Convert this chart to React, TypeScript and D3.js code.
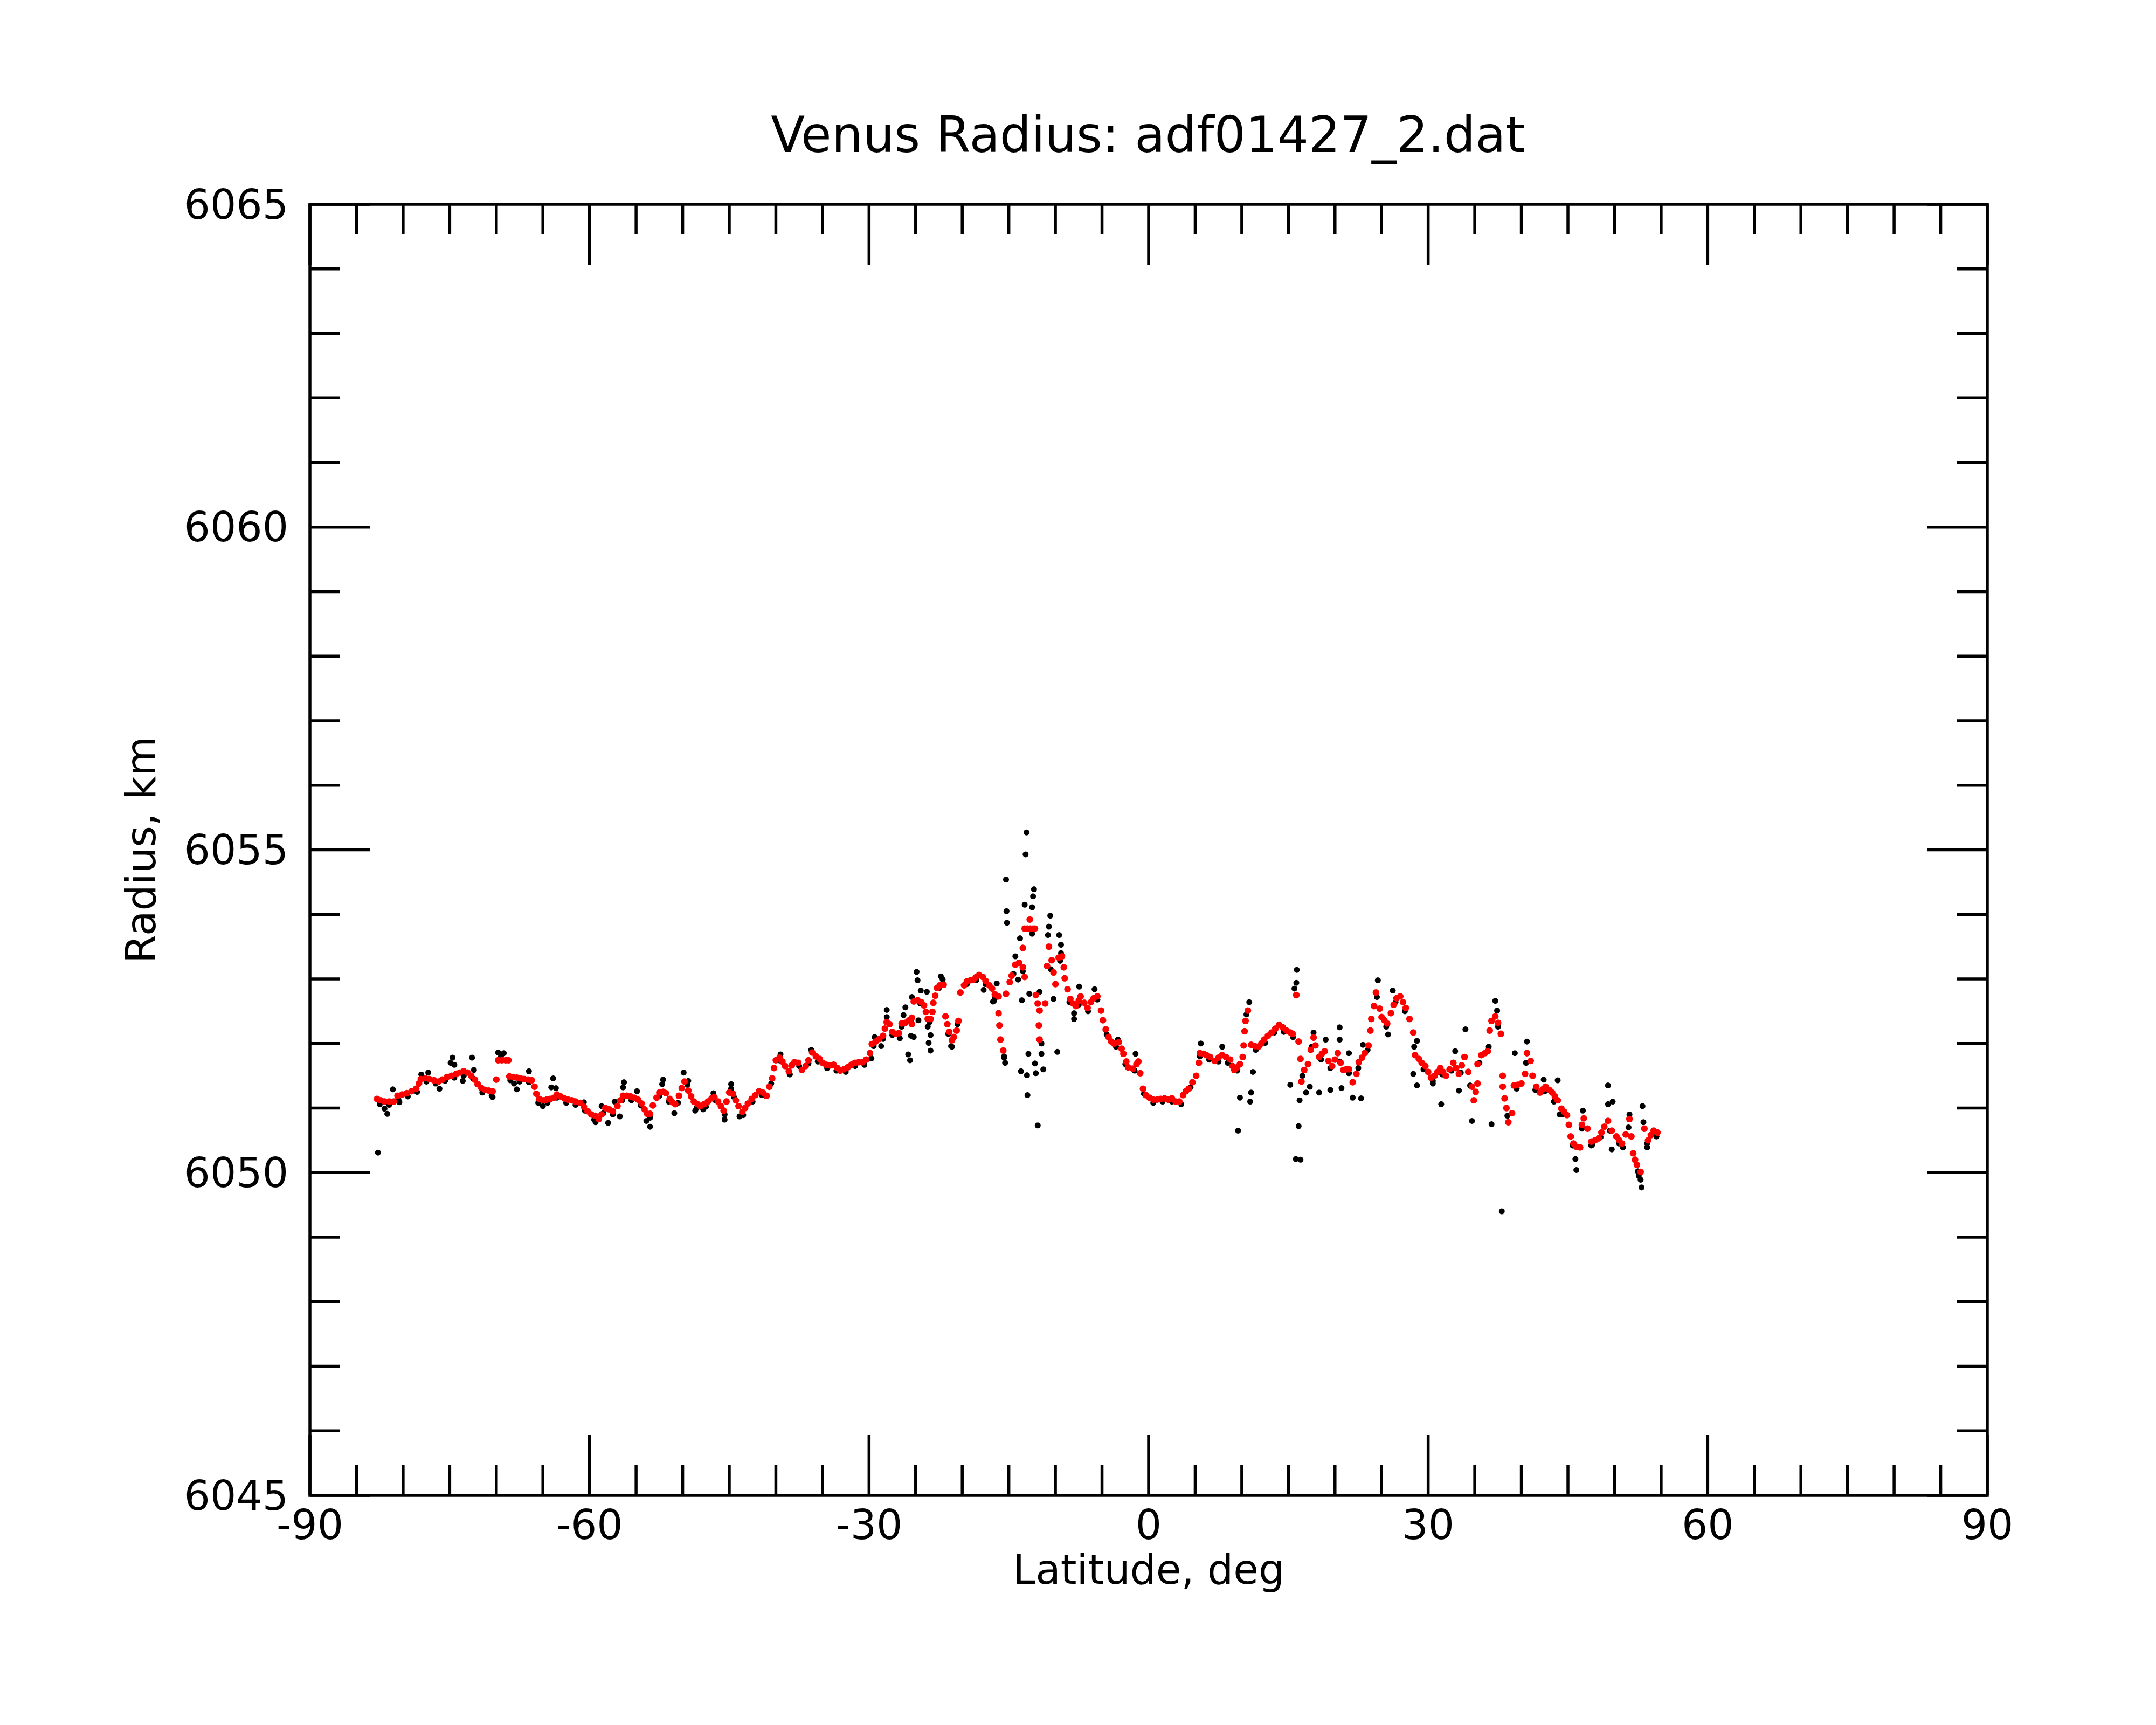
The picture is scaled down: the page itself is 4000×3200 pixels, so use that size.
import { useMemo } from "react";
import * as d3 from "d3";

const WIDTH = 4000;
const HEIGHT = 3200;
const PLOT = { left: 575, right: 3687, top: 379, bottom: 2774 };

const TITLE = "Venus Radius: adf01427_2.dat";
const X_LABEL = "Latitude, deg";
const Y_LABEL = "Radius, km";
const xTickLabels = [-90, -60, -30, 0, 30, 60, 90];
const yTickLabels = [6045, 6050, 6055, 6060, 6065];

// red: smoothed radius track [latitude, radius]
const redPoints: [number, number][] = [
  [-82.8, 6051.14], [-82.4, 6051.12], [-82.0, 6051.10], [-81.5, 6051.10], [-81.0, 6051.10], [-80.6, 6051.19],
  [-80.1, 6051.21], [-79.6, 6051.23], [-79.1, 6051.26], [-78.6, 6051.30], [-78.3, 6051.38], [-78.1, 6051.45],
  [-77.6, 6051.46], [-77.2, 6051.45], [-76.7, 6051.43], [-76.2, 6051.41], [-75.8, 6051.44], [-75.3, 6051.48],
  [-74.8, 6051.50], [-74.3, 6051.53], [-73.9, 6051.55], [-73.5, 6051.57], [-73.1, 6051.55], [-72.7, 6051.50],
  [-72.3, 6051.44], [-72.0, 6051.37], [-71.6, 6051.31], [-71.2, 6051.28], [-70.8, 6051.27], [-70.4, 6051.26],
  [-70.0, 6051.44], [-69.8, 6051.74], [-69.4, 6051.74], [-69.0, 6051.74], [-68.7, 6051.74], [-68.6, 6051.49],
  [-68.2, 6051.48], [-67.8, 6051.47], [-67.4, 6051.46], [-67.0, 6051.45], [-66.6, 6051.44], [-66.2, 6051.43],
  [-65.9, 6051.33], [-65.7, 6051.22], [-65.4, 6051.14], [-65.0, 6051.12], [-64.6, 6051.13], [-64.2, 6051.14],
  [-63.8, 6051.16], [-63.5, 6051.21], [-63.1, 6051.18], [-62.7, 6051.15], [-62.3, 6051.13], [-61.9, 6051.12],
  [-61.5, 6051.10], [-61.0, 6051.08], [-60.6, 6051.02], [-60.2, 6050.95], [-59.8, 6050.90], [-59.4, 6050.88],
  [-59.0, 6050.83], [-58.7, 6050.90], [-58.3, 6051.00], [-57.9, 6050.98], [-57.5, 6050.95], [-57.0, 6051.03],
  [-56.7, 6051.12], [-56.4, 6051.19], [-56.0, 6051.19], [-55.6, 6051.18], [-55.2, 6051.16], [-54.8, 6051.13],
  [-54.4, 6051.07], [-54.1, 6050.98], [-53.8, 6050.91], [-53.5, 6050.91], [-53.2, 6051.04], [-52.8, 6051.16],
  [-52.5, 6051.24], [-52.1, 6051.25], [-51.8, 6051.23], [-51.4, 6051.14], [-51.1, 6051.09], [-50.8, 6051.06],
  [-50.4, 6051.19], [-50.1, 6051.31], [-49.8, 6051.41], [-49.4, 6051.27], [-49.1, 6051.18], [-48.8, 6051.10],
  [-48.4, 6051.06], [-48.1, 6051.03], [-47.7, 6051.06], [-47.3, 6051.10], [-46.9, 6051.15], [-46.6, 6051.17],
  [-46.2, 6051.10], [-45.9, 6051.03], [-45.6, 6050.96], [-45.3, 6051.10], [-45.0, 6051.24], [-44.6, 6051.22],
  [-44.3, 6051.12], [-44.0, 6051.03], [-43.6, 6050.94], [-43.3, 6051.00], [-43.0, 6051.07], [-42.6, 6051.14],
  [-42.2, 6051.20], [-41.8, 6051.26], [-41.4, 6051.24], [-41.0, 6051.19], [-40.7, 6051.33], [-40.4, 6051.46],
  [-40.2, 6051.62], [-40.0, 6051.74], [-39.6, 6051.78], [-39.3, 6051.72], [-39.0, 6051.65], [-38.6, 6051.57],
  [-38.3, 6051.66], [-38.0, 6051.71], [-37.6, 6051.70], [-37.2, 6051.59], [-36.8, 6051.65], [-36.5, 6051.74],
  [-36.1, 6051.86], [-35.7, 6051.80], [-35.3, 6051.76], [-35.0, 6051.70], [-34.6, 6051.67], [-34.2, 6051.66],
  [-33.8, 6051.67], [-33.4, 6051.62], [-33.1, 6051.58], [-32.7, 6051.60], [-32.3, 6051.63], [-31.9, 6051.67],
  [-31.5, 6051.70], [-31.1, 6051.71], [-30.7, 6051.71], [-30.3, 6051.75], [-29.9, 6051.85], [-29.7, 6051.99],
  [-29.3, 6052.03], [-28.9, 6052.07], [-28.5, 6052.12], [-28.3, 6052.23], [-28.1, 6052.33], [-27.8, 6052.30],
  [-27.5, 6052.18], [-27.1, 6052.15], [-26.8, 6052.16], [-26.5, 6052.31], [-26.1, 6052.32], [-25.7, 6052.36],
  [-25.4, 6052.40], [-25.4, 6052.30], [-25.2, 6052.65], [-24.8, 6052.67], [-24.4, 6052.64], [-24.1, 6052.59],
  [-23.9, 6052.49], [-23.7, 6052.38], [-23.4, 6052.38], [-23.2, 6052.49], [-23.1, 6052.63], [-22.9, 6052.74],
  [-22.7, 6052.86], [-22.4, 6052.90], [-22.0, 6052.91], [-21.8, 6052.42], [-21.6, 6052.30], [-21.4, 6052.18],
  [-21.1, 6052.05], [-20.9, 6052.10], [-20.6, 6052.20], [-20.4, 6052.35], [-20.2, 6052.79], [-19.8, 6052.90],
  [-19.5, 6052.96], [-19.1, 6052.98], [-18.8, 6052.99], [-18.5, 6053.03], [-18.2, 6053.06], [-17.8, 6053.03],
  [-17.5, 6052.97], [-17.1, 6052.90], [-16.8, 6052.85], [-16.5, 6052.76], [-16.1, 6052.73], [-16.1, 6052.47],
  [-16.0, 6052.28], [-15.9, 6052.06], [-15.6, 6051.89], [-15.3, 6052.77], [-14.9, 6052.95], [-14.7, 6053.05],
  [-14.3, 6053.22], [-13.9, 6053.25], [-13.5, 6053.18], [-13.3, 6053.03], [-13.5, 6053.48], [-13.3, 6053.78],
  [-13.0, 6053.78], [-12.7, 6053.78], [-12.4, 6053.78], [-12.2, 6053.78], [-12.75, 6053.92], [-12.1, 6052.75],
  [-11.9, 6052.62], [-11.7, 6052.51], [-11.77, 6052.28], [-11.7, 6052.06], [-11.1, 6052.62], [-10.9, 6053.20],
  [-10.7, 6053.50], [-10.4, 6053.29], [-10.2, 6053.10], [-10.0, 6052.92], [-9.65, 6053.33], [-9.3, 6053.35],
  [-9.1, 6053.18], [-9.0, 6053.01], [-8.7, 6052.84], [-8.4, 6052.69], [-8.1, 6052.62], [-7.8, 6052.58],
  [-7.5, 6052.66], [-7.3, 6052.73], [-6.9, 6052.63], [-6.55, 6052.55], [-6.2, 6052.64], [-5.9, 6052.70],
  [-5.5, 6052.73], [-5.1, 6052.51], [-4.9, 6052.36], [-4.6, 6052.22], [-4.3, 6052.10], [-4.0, 6052.03],
  [-3.7, 6052.00], [-3.2, 6052.02], [-2.9, 6051.92], [-2.7, 6051.84], [-2.4, 6051.72], [-2.2, 6051.63],
  [-1.7, 6051.61], [-1.3, 6051.68], [-1.1, 6051.72], [-0.9, 6051.54], [-0.6, 6051.30], [-0.3, 6051.20],
  [0.1, 6051.16], [0.5, 6051.13], [0.9, 6051.13], [1.3, 6051.14], [1.7, 6051.15], [2.1, 6051.13],
  [2.5, 6051.15], [2.9, 6051.10], [3.3, 6051.10], [3.7, 6051.20], [4.0, 6051.26], [4.3, 6051.30],
  [4.7, 6051.40], [5.1, 6051.50], [5.4, 6051.70], [5.5, 6051.85], [5.9, 6051.84], [6.2, 6051.82],
  [6.6, 6051.79], [7.1, 6051.73], [7.5, 6051.78], [7.9, 6051.82], [8.3, 6051.79], [8.75, 6051.75],
  [9.0, 6051.65], [9.2, 6051.59], [9.5, 6051.63], [9.8, 6051.68], [10.1, 6051.79], [10.2, 6051.97],
  [10.3, 6052.19], [10.4, 6052.35], [10.65, 6052.51], [11.0, 6051.98], [11.4, 6051.96], [11.8, 6051.95],
  [12.1, 6052.00], [12.4, 6052.06], [12.8, 6052.12], [13.2, 6052.17], [13.6, 6052.23], [14.0, 6052.29],
  [14.4, 6052.25], [14.8, 6052.20], [15.2, 6052.17], [15.45, 6052.15], [15.85, 6052.75], [16.1, 6052.03],
  [16.3, 6051.76], [16.4, 6051.41], [16.7, 6051.59], [17.1, 6051.68], [17.4, 6051.90], [17.7, 6052.09],
  [17.9, 6051.97], [18.3, 6051.79], [18.6, 6051.84], [18.9, 6051.88], [19.3, 6051.73], [19.7, 6051.65],
  [20.0, 6051.75], [20.3, 6051.85], [20.6, 6051.70], [20.9, 6051.59], [21.2, 6051.60], [21.5, 6051.60],
  [21.9, 6051.40], [22.3, 6051.53], [22.55, 6051.71], [22.9, 6051.78], [23.2, 6051.85], [23.6, 6051.97],
  [23.8, 6052.20], [23.9, 6052.38], [24.2, 6052.58], [24.4, 6052.79], [24.8, 6052.54], [25.0, 6052.41],
  [25.3, 6052.36], [25.6, 6052.31], [26.0, 6052.47], [26.3, 6052.60], [26.6, 6052.70], [27.0, 6052.73],
  [27.3, 6052.64], [27.6, 6052.55], [28.0, 6052.38], [28.4, 6052.17], [28.6, 6051.82], [29.0, 6051.76],
  [29.3, 6051.70], [29.7, 6051.65], [30.0, 6051.56], [30.3, 6051.47], [30.7, 6051.50], [31.0, 6051.56],
  [31.3, 6051.62], [31.6, 6051.56], [31.9, 6051.50], [32.3, 6051.60], [32.7, 6051.70], [33.0, 6051.62],
  [33.3, 6051.53], [33.6, 6051.66], [33.9, 6051.79], [34.3, 6051.56], [34.7, 6051.33], [34.9, 6051.12],
  [35.1, 6051.25], [35.3, 6051.38], [35.3, 6051.68], [35.7, 6051.82], [36.1, 6051.85], [36.4, 6051.88],
  [36.6, 6052.20], [36.8, 6052.35], [37.2, 6052.42], [37.5, 6052.32], [37.8, 6052.15], [38.0, 6051.50],
  [38.0, 6051.33], [38.2, 6051.15], [38.4, 6051.00], [38.6, 6050.78], [39.0, 6050.92], [39.2, 6051.35],
  [39.6, 6051.36], [40.0, 6051.38], [40.4, 6051.53], [40.6, 6051.85], [41.0, 6051.73], [41.2, 6051.50],
  [41.6, 6051.33], [42.0, 6051.24], [42.3, 6051.29], [42.6, 6051.33], [43.0, 6051.28], [43.3, 6051.24],
  [43.6, 6051.18], [43.9, 6051.12], [44.3, 6050.99], [44.6, 6050.94], [44.9, 6050.89], [45.1, 6050.74],
  [45.3, 6050.56], [45.6, 6050.45], [45.9, 6050.40], [46.3, 6050.39], [46.5, 6050.74], [46.7, 6050.84],
  [47.1, 6050.68], [47.5, 6050.48], [47.9, 6050.50], [48.3, 6050.53], [48.6, 6050.62], [48.9, 6050.71],
  [49.3, 6050.80], [49.7, 6050.65], [50.2, 6050.56], [50.5, 6050.50], [50.8, 6050.45], [51.2, 6050.59],
  [51.6, 6050.83], [51.8, 6050.56], [52.0, 6050.30], [52.2, 6050.20], [52.4, 6050.12], [52.8, 6050.01],
  [53.2, 6050.68], [53.6, 6050.50], [53.9, 6050.58], [54.2, 6050.65], [54.6, 6050.62],
];

// black: raw radius samples along the track
const blackTrack: [number, number][] = [
  [-82.5, 6051.06], [-81.5, 6051.05], [-80.5, 6051.13], [-79.5, 6051.18], [-78.5, 6051.25], [-77.5, 6051.41],
  [-76.5, 6051.38], [-75.5, 6051.42], [-74.5, 6051.47], [-73.5, 6051.50], [-72.5, 6051.46], [-71.5, 6051.24],
  [-70.5, 6051.19], [-69.5, 6051.80], [-68.5, 6051.43], [-67.5, 6051.41], [-66.5, 6051.40], [-65.5, 6051.08],
  [-64.5, 6051.08], [-63.5, 6051.16], [-62.5, 6051.08], [-61.5, 6051.05], [-60.5, 6050.96], [-59.5, 6050.82],
  [-58.5, 6050.92], [-57.5, 6050.90], [-56.5, 6051.12], [-55.5, 6051.12], [-54.5, 6051.04], [-53.5, 6050.85],
  [-52.5, 6051.19], [-51.5, 6051.10], [-50.5, 6051.08], [-49.5, 6051.36], [-48.5, 6051.00], [-47.5, 6051.02],
  [-46.5, 6051.12], [-45.5, 6050.90], [-44.5, 6051.17], [-43.5, 6050.89], [-42.5, 6051.10], [-41.5, 6051.20],
  [-40.5, 6051.38], [-39.5, 6051.73], [-38.5, 6051.52], [-37.5, 6051.65], [-36.5, 6051.69], [-35.5, 6051.72],
  [-34.5, 6051.62], [-33.5, 6051.58], [-32.5, 6051.56], [-31.5, 6051.65], [-30.5, 6051.67], [-29.5, 6051.96],
  [-28.5, 6052.07], [-27.5, 6052.13], [-26.5, 6052.26], [-25.5, 6052.34], [-24.5, 6052.62], [-23.5, 6052.33],
  [-22.5, 6052.86], [-21.5, 6052.15], [-20.5, 6052.30], [-19.5, 6052.92], [-18.5, 6052.98], [-17.5, 6052.92],
  [-16.5, 6052.70], [-15.5, 6051.80], [-14.5, 6053.08], [-13.5, 6053.12], [-12.5, 6053.70], [-11.5, 6052.00],
  [-10.5, 6053.15], [-9.5, 6053.28], [-8.5, 6052.64], [-7.5, 6052.60], [-6.5, 6052.50], [-5.5, 6052.68],
  [-4.5, 6052.14], [-3.5, 6051.95], [-2.5, 6051.68], [-1.5, 6051.58], [-0.5, 6051.22], [0.5, 6051.08],
  [1.5, 6051.10], [2.5, 6051.10], [3.5, 6051.06], [4.5, 6051.32], [5.5, 6051.80], [6.5, 6051.75],
  [7.5, 6051.72], [8.5, 6051.70], [9.5, 6051.58], [10.5, 6052.45], [11.5, 6051.90], [12.5, 6052.01],
  [13.5, 6052.17], [14.5, 6052.18], [15.5, 6052.10], [16.5, 6051.50], [17.5, 6051.95], [18.5, 6051.75],
  [19.5, 6051.62], [20.5, 6051.72], [21.5, 6051.54], [22.5, 6051.62], [23.5, 6051.90], [24.5, 6052.72],
  [25.5, 6052.26], [26.5, 6052.64], [27.5, 6052.50], [28.5, 6051.95], [29.5, 6051.60], [30.5, 6051.42],
  [31.5, 6051.52], [32.5, 6051.58], [33.5, 6051.55], [34.5, 6051.35], [35.5, 6051.70], [36.5, 6051.95],
  [37.5, 6052.26], [38.5, 6050.88], [39.5, 6051.30], [40.5, 6051.70], [41.5, 6051.28], [42.5, 6051.26],
  [43.5, 6051.10], [44.5, 6050.90], [45.5, 6050.42], [46.5, 6050.68], [47.5, 6050.42], [48.5, 6050.55],
  [49.5, 6050.65], [50.5, 6050.45], [51.5, 6050.70], [52.5, 6050.02], [53.5, 6050.45], [54.5, 6050.56],
];

// black: scattered raw samples away from the track
const blackScatter: [number, number][] = [
  [-82.7, 6050.31], [-82.0, 6050.99], [-81.7, 6050.91], [-80.4, 6051.09], [-81.1, 6051.29], [-78.05, 6051.52],
  [-77.3, 6051.55], [-76.1, 6051.30], [-74.7, 6051.78], [-74.9, 6051.70], [-74.5, 6051.67], [-72.6, 6051.78],
  [-73.6, 6051.42], [-72.4, 6051.59], [-69.8, 6051.86], [-69.2, 6051.85], [-70.4, 6051.17], [-68.1, 6051.38],
  [-67.8, 6051.29], [-66.5, 6051.57], [-65.0, 6051.03], [-63.9, 6051.46], [-64.1, 6051.32], [-63.6, 6051.31],
  [-59.35, 6050.78], [-60.6, 6051.09], [-58.7, 6051.03], [-57.3, 6051.10], [-56.75, 6050.87], [-58.0, 6050.77],
  [-56.3, 6051.40], [-56.4, 6051.32], [-54.9, 6051.26], [-53.9, 6050.80], [-53.5, 6050.71], [-52.1, 6051.44],
  [-52.2, 6051.37], [-50.9, 6050.92], [-49.9, 6051.55], [-49.4, 6051.42], [-48.65, 6050.96], [-47.8, 6050.98],
  [-46.7, 6051.23], [-45.5, 6050.82], [-44.8, 6051.37], [-44.8, 6051.30], [-43.9, 6050.87], [-39.5, 6051.83],
  [-36.2, 6051.90], [-24.9, 6053.11], [-24.8, 6052.98], [-24.45, 6052.82], [-23.8, 6052.80], [-25.4, 6052.72],
  [-26.1, 6052.56], [-26.3, 6052.44], [-28.1, 6052.52], [-28.1, 6052.41], [-25.8, 6051.83], [-25.6, 6051.74],
  [-25.5, 6052.12], [-25.2, 6052.10], [-24.7, 6052.36], [-23.7, 6052.26], [-23.4, 6052.13], [-23.6, 6052.01],
  [-23.4, 6051.89], [-22.3, 6053.04], [-22.1, 6052.99], [-21.2, 6051.96], [-17.7, 6052.83], [-16.7, 6052.65],
  [-26.7, 6052.08], [-28.7, 6051.96], [-29.75, 6051.77], [-29.4, 6052.10], [-13.1, 6055.27], [-13.2, 6054.93],
  [-15.3, 6054.54], [-15.25, 6054.05], [-15.2, 6053.87], [-12.3, 6054.39], [-12.4, 6054.28], [-13.3, 6054.15],
  [-12.5, 6054.11], [-13.8, 6053.63], [-14.3, 6053.35], [-10.55, 6053.98], [-10.7, 6053.81], [-10.8, 6053.68],
  [-9.6, 6053.68], [-9.4, 6053.53], [-9.4, 6053.40], [-14.0, 6052.99], [-13.6, 6052.67], [-12.8, 6052.77],
  [-11.7, 6052.80], [-12.9, 6051.84], [-12.2, 6051.69], [-11.5, 6051.84], [-11.3, 6051.60], [-13.7, 6051.57],
  [-13.05, 6051.51], [-12.1, 6051.54], [-13.0, 6051.20], [-11.9, 6050.73], [-9.8, 6051.87], [-10.2, 6052.69],
  [-7.45, 6052.88], [-8.0, 6052.47], [-8.0, 6052.38], [-5.8, 6052.84], [-3.3, 6052.06], [-1.4, 6051.84],
  [-15.4, 6051.70], [-15.5, 6051.78], [-16.6, 6052.66], [-16.3, 6052.93], [-21.1, 6051.95], [15.9, 6053.14],
  [15.85, 6052.94], [15.65, 6052.85], [10.8, 6052.64], [5.6, 6052.00], [7.9, 6051.95], [9.8, 6051.16],
  [11.0, 6051.24], [10.9, 6051.10], [9.6, 6050.65], [11.2, 6051.56], [15.2, 6051.36], [16.2, 6051.12],
  [16.1, 6050.72], [15.8, 6050.21], [16.3, 6050.20], [17.3, 6051.33], [16.9, 6051.24], [17.7, 6052.17],
  [18.3, 6051.24], [19.0, 6052.06], [19.5, 6051.28], [20.5, 6052.25], [20.5, 6052.06], [20.7, 6051.31],
  [21.5, 6051.85], [21.9, 6051.16], [22.8, 6051.15], [23.0, 6051.98], [24.6, 6052.98], [26.2, 6052.82],
  [25.7, 6052.14], [28.8, 6052.04], [28.4, 6051.53], [28.8, 6051.35], [30.5, 6051.38], [31.4, 6051.06],
  [32.9, 6051.88], [34.0, 6052.22], [33.3, 6051.27], [34.7, 6050.80], [36.8, 6050.75], [37.2, 6052.66],
  [37.4, 6052.51], [37.9, 6049.40], [39.3, 6051.85], [40.6, 6052.03], [42.4, 6051.44], [43.9, 6051.43],
  [44.1, 6050.90], [45.9, 6050.04], [45.8, 6050.21], [46.6, 6050.96], [47.6, 6050.43], [49.3, 6051.35],
  [49.3, 6051.06], [49.8, 6051.10], [49.7, 6050.36], [51.6, 6050.90], [53.0, 6051.03], [53.1, 6050.78],
  [52.9, 6049.77], [52.8, 6049.89], [53.5, 6050.39], [50.9, 6050.39], [52.6, 6049.95],
];

const FONT = "'DejaVu Sans', sans-serif";
const STROKE = 5.5;

function App() {
  const xScale = useMemo(
    () => d3.scaleLinear().domain([-90, 90]).range([PLOT.left, PLOT.right]),
    []
  );
  const yScale = useMemo(
    () => d3.scaleLinear().domain([6045, 6065]).range([PLOT.bottom, PLOT.top]),
    []
  );

  const xMinor = d3.range(-90, 91, 5);
  const yMinor = d3.range(6045, 6066, 1);
  const isXMajor = (v: number) => v % 30 === 0;
  const isYMajor = (v: number) => v % 5 === 0;

  return (
    <svg
      width={WIDTH}
      height={HEIGHT}
      style={{ position: "absolute", left: 0, top: 0, background: "#fff" }}
    >
      <rect width={WIDTH} height={HEIGHT} fill="#fff" />

      {/* data */}
      <g fill="#000">
        {blackTrack.concat(blackScatter).map((d, i) => (
          <circle key={"b" + i} cx={xScale(d[0])} cy={yScale(d[1])} r={5.5} />
        ))}
      </g>
      <g fill="#ff0000">
        {redPoints.map((d, i) => (
          <circle key={"r" + i} cx={xScale(d[0])} cy={yScale(d[1])} r={6.2} />
        ))}
      </g>

      {/* frame and ticks */}
      <g stroke="#000" strokeWidth={STROKE} fill="none">
        <rect
          x={PLOT.left}
          y={PLOT.top}
          width={PLOT.right - PLOT.left}
          height={PLOT.bottom - PLOT.top}
        />
        {xMinor.map((v) => {
          const len = isXMajor(v) ? 112 : 56;
          const x = xScale(v);
          return (
            <g key={"xt" + v}>
              <line x1={x} x2={x} y1={PLOT.bottom} y2={PLOT.bottom - len} />
              <line x1={x} x2={x} y1={PLOT.top} y2={PLOT.top + len} />
            </g>
          );
        })}
        {yMinor.map((v) => {
          const len = isYMajor(v) ? 112 : 56;
          const y = yScale(v);
          return (
            <g key={"yt" + v}>
              <line x1={PLOT.left} x2={PLOT.left + len} y1={y} y2={y} />
              <line x1={PLOT.right} x2={PLOT.right - len} y1={y} y2={y} />
            </g>
          );
        })}
      </g>

      {/* labels */}
      <g fontFamily={FONT} fontSize={76} fill="#000">
        {xTickLabels.map((v) => (
          <text key={"xl" + v} x={xScale(v)} y={PLOT.bottom + 81} textAnchor="middle">
            {v}
          </text>
        ))}
        {yTickLabels.map((v) => (
          <text
            key={"yl" + v}
            x={PLOT.left - 40}
            y={yScale(v)}
            textAnchor="end"
            dominantBaseline="central"
          >
            {v}
          </text>
        ))}
        <text x={(PLOT.left + PLOT.right) / 2} y={PLOT.bottom + 164} textAnchor="middle">
          {X_LABEL}
        </text>
        <text
          transform={`translate(288,${(PLOT.top + PLOT.bottom) / 2}) rotate(-90)`}
          textAnchor="middle"
        >
          {Y_LABEL}
        </text>
        <text x={2130} y={282} textAnchor="middle" fontSize={92}>
          {TITLE}
        </text>
      </g>
    </svg>
  );
}

export default App;
